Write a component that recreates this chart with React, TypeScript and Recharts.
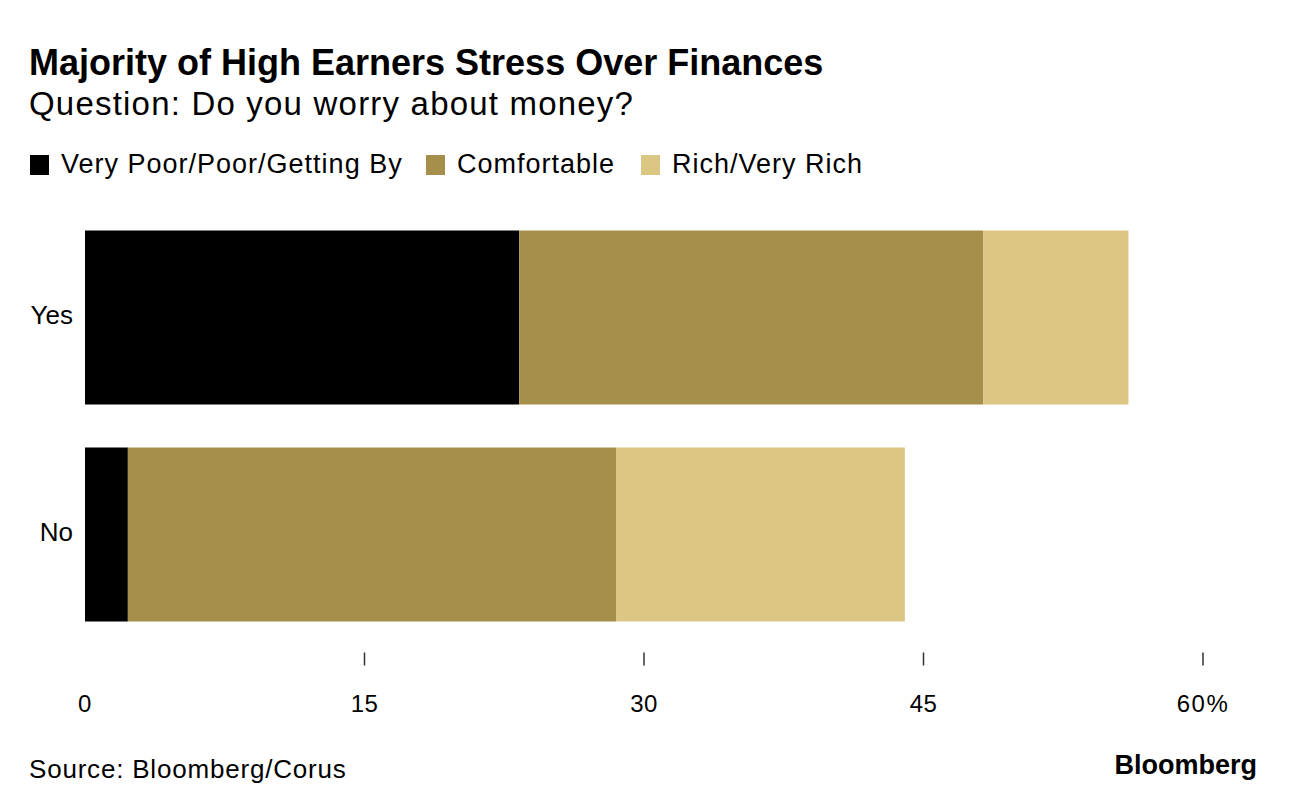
import { BarChart, Bar, XAxis, YAxis } from 'recharts';

const categories = ['Yes', 'No'];
const veryPoorPoorGettingBy = [23.3, 2.3];
const comfortable = [24.9, 26.2];
const richVeryRich = [7.8, 15.5];
const xTicks = [0, 15, 30, 45, 60];

const series = [
  { key: 'poor', name: 'Very Poor/Poor/Getting By', color: '#000000' },
  { key: 'comfortable', name: 'Comfortable', color: '#a68f4a' },
  { key: 'rich', name: 'Rich/Very Rich', color: '#dcc684' },
];
// legend item left edges
const legendX = [30, 426, 641];

const data = categories.map((c, i) => ({
  category: c,
  poor: veryPoorPoorGettingBy[i],
  comfortable: comfortable[i],
  rich: richVeryRich[i],
}));

const FONT = '"Liberation Sans", Arial, Helvetica, sans-serif';

function XTick(props: any) {
  const { x, y, payload } = props;
  const v = payload.value;
  const last = v === xTicks[xTicks.length - 1];
  return (
    <g>
      {v !== 0 && <line x1={x} x2={x} y1={y + 10} y2={y + 23} stroke="#333" strokeWidth={1.5} />}
      <text x={x} y={y + 69} textAnchor="middle" fill="#000" fontSize={24} letterSpacing={last ? 1.5 : 0.5} fontFamily={FONT}>
        {last ? `${v}%` : v}
      </text>
    </g>
  );
}

export default function App() {
  return (
    <div style={{ position: 'absolute', left: 0, top: 0, width: 1296, height: 810, background: '#fff', fontFamily: FONT, color: '#000' }}>
      <div style={{ position: 'absolute', left: 29, top: 42, fontSize: 36, fontWeight: 700, whiteSpace: 'nowrap' }}>
        Majority of High Earners Stress Over Finances
      </div>
      <div style={{ position: 'absolute', left: 29, top: 85, fontSize: 33, letterSpacing: 1.2, whiteSpace: 'nowrap' }}>
        Question: Do you worry about money?
      </div>
      {series.map((s, i) => (
        <div
          key={s.key}
          style={{ position: 'absolute', left: legendX[i], top: 149, display: 'flex', alignItems: 'center', fontSize: 27, letterSpacing: 1, whiteSpace: 'nowrap' }}
        >
          <div style={{ width: 19, height: 20, background: s.color, marginRight: 12 }} />
          <span>{s.name}</span>
        </div>
      ))}

      <div style={{ position: 'absolute', left: 0, top: 0 }}>
        <BarChart
          width={1296}
          height={810}
          data={data}
          layout="vertical"
          margin={{ top: 208.5, right: 93, bottom: 87.5, left: 0 }}
        >
          <XAxis
            type="number"
            domain={[0, 60]}
            ticks={xTicks}
            axisLine={false}
            tickLine={false}
            tickSize={0}
            tickMargin={0}
            height={80}
            interval={0}
            tick={<XTick />}
          />
          <YAxis
            type="category"
            dataKey="category"
            width={85}
            axisLine={false}
            tickLine={false}
            tickSize={0}
            tickMargin={12}
            tick={{ fill: '#000', fontSize: 26, fontFamily: FONT, dy: -2 }}
          />
          {series.map((s) => (
            <Bar key={s.key} dataKey={s.key} name={s.name} stackId="a" fill={s.color} barSize={174} isAnimationActive={false} />
          ))}
        </BarChart>
      </div>

      <div style={{ position: 'absolute', left: 29, top: 754, fontSize: 26, letterSpacing: 0.8, whiteSpace: 'nowrap' }}>
        Source: Bloomberg/Corus
      </div>
      <div style={{ position: 'absolute', right: 39, top: 750, fontSize: 27, fontWeight: 700, whiteSpace: 'nowrap' }}>
        Bloomberg
      </div>
    </div>
  );
}
